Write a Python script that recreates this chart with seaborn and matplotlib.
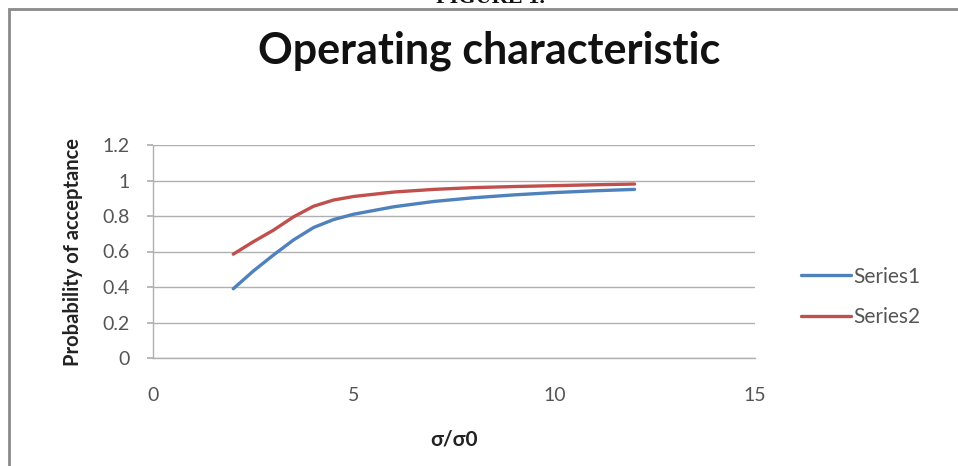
import numpy as np
import pandas as pd
import matplotlib
matplotlib.use("Agg")
import matplotlib.pyplot as plt
from matplotlib.patches import Rectangle
import seaborn as sns

# Data (curves read at these sigma/sigma0 positions)
x_ratio = [2, 2.5, 3, 3.5, 4, 4.5, 5, 6, 7, 8, 9, 10, 11, 12]
series1 = [0.39, 0.49, 0.58, 0.665, 0.735, 0.78, 0.81, 0.852, 0.882, 0.903,
           0.919, 0.932, 0.942, 0.95]
series2 = [0.585, 0.655, 0.72, 0.795, 0.855, 0.89, 0.91, 0.935, 0.95, 0.96,
           0.966, 0.971, 0.976, 0.98]
series_names = ["Series1", "Series2"]
x_ticks = [0, 5, 10, 15]
y_ticks = [0, 0.2, 0.4, 0.6, 0.8, 1.0, 1.2]
y_tick_labels = ["0", "0.2", "0.4", "0.6", "0.8", "1", "1.2"]

df = pd.DataFrame({
    "x": x_ratio * 2,
    "y": series1 + series2,
    "series": [series_names[0]] * len(x_ratio) + [series_names[1]] * len(x_ratio),
})

sns.set_theme(style="white")
plt.rcParams["font.family"] = ["Lato", "DejaVu Sans"]

fig = plt.figure(figsize=(9.58, 4.66), dpi=100)
ax = fig.add_axes([153 / 958, 1 - 358 / 466, (755 - 153) / 958, (358 - 145) / 466])

palette = {"Series1": "#4F81BD", "Series2": "#C0504D"}
sns.lineplot(data=df, x="x", y="y", hue="series", palette=palette, ax=ax,
             linewidth=2.4, legend=True)
for line in ax.get_lines():
    line.set_solid_joinstyle("round")
    line.set_solid_capstyle("round")

ax.set_xlim(0, 15)
ax.set_ylim(0, 1.2)
ax.set_xticks(x_ticks)
ax.set_xticklabels([str(t) for t in x_ticks])
ax.set_yticks(y_ticks)
ax.set_yticklabels(y_tick_labels)
ax.yaxis.grid(True, color="#b0b0b0", linewidth=1.0)
ax.xaxis.grid(False)
for side in ["top", "right"]:
    ax.spines[side].set_visible(False)
for side in ["left", "bottom"]:
    ax.spines[side].set_color("#b0b0b0")
    ax.spines[side].set_linewidth(1.0)
ax.tick_params(axis="y", left=True, length=4, color="#b0b0b0", labelsize=14,
               labelcolor="#555555", pad=13)
ax.tick_params(axis="x", bottom=False, labelsize=14, labelcolor="#555555", pad=15)

ax.set_xlabel("σ/σ0", fontsize=15, fontweight="bold", labelpad=18, color="#222222")
ax.set_ylabel("Probability of acceptance", fontsize=14.5, fontweight="bold",
              labelpad=14, color="#222222")

leg = ax.legend(loc="center left", bbox_to_anchor=(1.045, 0.286), frameon=False,
                fontsize=15, handlelength=2.4, handletextpad=0.1, labelspacing=1.0)
for t in leg.get_texts():
    t.set_color("#555555")

fig.text(489 / 958, 1 - 51 / 466, "Operating characteristic", ha="center",
         va="center", fontsize=31, fontweight="bold", color="#111111")
fig.text(490 / 958, 1.005, "FIGURE 1.", ha="center", va="center", fontsize=16,
         fontweight="bold", family=["Liberation Serif", "DejaVu Serif"], color="#111111")

fig.patches.append(Rectangle((9 / 958, -0.1), 1.2, 1 - 9 / 466 + 0.1,
                             transform=fig.transFigure, fill=False,
                             edgecolor="#8a8a8a", linewidth=2))

fig.savefig("out.png", dpi=100)
